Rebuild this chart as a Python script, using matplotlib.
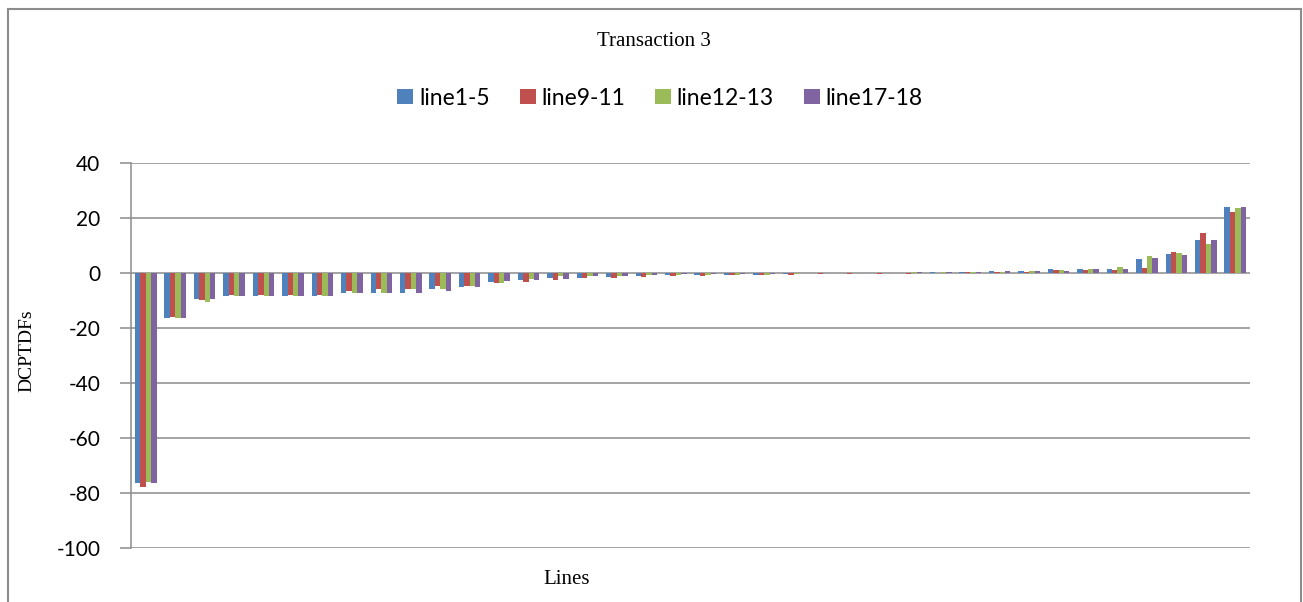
import numpy as np
import matplotlib.pyplot as plt
from matplotlib.lines import Line2D

plt.rcParams['axes.unicode_minus'] = False

# DCPTDF values per line (38 lines)
line1_5 = [-76.2, -16.5, -9.5, -8.2, -8.2, -8.2, -8.2, -7.2, -7.2, -7.2,
           -5.7, -5.1, -3.2, -2.5, -1.9, -1.9, -1.3, -1.2, -0.6, -0.7,
           -0.6, -0.6, -0.5, -0.1, -0.1, -0.1, 0.0, 0.3, 0.4, 0.7,
           0.7, 1.4, 1.4, 1.4, 5.1, 6.9, 12.0, 23.9]
line9_11 = [-77.8, -16.1, -9.8, -8.0, -8.0, -8.0, -8.0, -6.4, -6.0, -6.0,
            -4.7, -4.7, -3.5, -3.2, -2.5, -1.7, -1.7, -1.3, -1.1, -1.0,
            -0.7, -0.7, -0.6, -0.5, -0.5, -0.5, -0.4, 0.1, 0.2, 0.3,
            0.4, 1.2, 1.2, 1.2, 1.9, 7.6, 14.5, 22.3]
line12_13 = [-76.0, -16.2, -10.4, -8.2, -8.2, -8.2, -8.2, -7.3, -7.3, -6.0,
             -5.7, -4.7, -3.6, -2.3, -1.0, -1.0, -1.0, -0.7, -0.6, -0.6,
             -0.6, -0.6, -0.3, -0.1, -0.1, -0.1, 0.2, 0.3, 0.3, 0.4,
             0.7, 1.2, 1.3, 2.3, 6.1, 7.3, 10.4, 23.6]
line17_18 = [-76.2, -16.5, -9.3, -8.2, -8.2, -8.2, -8.2, -7.4, -7.4, -7.2,
             -6.7, -5.0, -2.8, -2.5, -2.3, -1.1, -1.1, -0.6, -0.5, -0.4,
             -0.2, -0.2, -0.1, -0.1, -0.1, -0.1, 0.3, 0.3, 0.3, 0.7,
             0.7, 0.8, 1.3, 1.6, 5.5, 6.5, 12.0, 23.9]
series_names = ['line1-5', 'line9-11', 'line12-13', 'line17-18']
yticks = [-100, -80, -60, -40, -20, 0, 20, 40]

colors = ['#4F81BD', '#C0504D', '#9BBB59', '#8064A2']
W, H = 1303, 602
fig = plt.figure(figsize=(W / 100, H / 100), dpi=100)

# outer chart frame
frame_c = '#8c8c8c'
fig.add_artist(Line2D([8 / W, 8 / W], [0, 1 - 9 / H], color=frame_c, lw=1.5))
fig.add_artist(Line2D([8 / W, 1301 / W], [1 - 9 / H, 1 - 9 / H], color=frame_c, lw=1.5))
fig.add_artist(Line2D([1301 / W, 1301 / W], [0, 1 - 9 / H], color=frame_c, lw=1.5))

ax = fig.add_axes([131 / W, (H - 548) / H, (1250 - 131) / W, (548 - 163) / H])

data = [line1_5, line9_11, line12_13, line17_18]
n = len(line1_5)
x = np.arange(n)
bw = 0.183
for i, (vals, c, name) in enumerate(zip(data, colors, series_names)):
    ax.bar(x + (i - 1.5) * bw, vals, width=bw, color=c, label=name, zorder=3)

ax.set_xlim(-0.5, n - 0.5)
ax.set_ylim(-100, 40)
ax.set_yticks(yticks)
ax.set_xticks([])
ax.yaxis.grid(True, color='#8c8c8c', lw=1.1, zorder=0)
ax.set_axisbelow(True)
for s in ['top', 'right', 'bottom']:
    ax.spines[s].set_visible(False)
ax.spines['left'].set_color('#8c8c8c')
ax.spines['left'].set_linewidth(1.1)
ax.tick_params(axis='y', length=8, width=1.1, color='#8c8c8c', pad=14)
for lab in ax.get_yticklabels():
    lab.set_fontfamily('Lato')
    lab.set_fontsize(15)

fig.text(654 / W, 1 - 42 / H, 'Transaction 3', family='Liberation Serif',
         fontsize=15, ha='center', va='center')
fig.text(27 / W, 1 - 351 / H, 'DCPTDFs', family='Liberation Serif',
         fontsize=14, ha='center', va='center', rotation=90)
fig.text(567 / W, 1 - 579 / H, 'Lines', family='Liberation Serif',
         fontsize=15, ha='center', va='center')

fig.legend(loc='center', bbox_to_anchor=(660 / W, 1 - 98 / H), ncol=4,
           frameon=False, prop={'family': 'Lato', 'size': 16.5},
           handlelength=0.7, handleheight=0.65, handletextpad=0.25,
           columnspacing=1.3)

fig.savefig('out.png', dpi=100)
